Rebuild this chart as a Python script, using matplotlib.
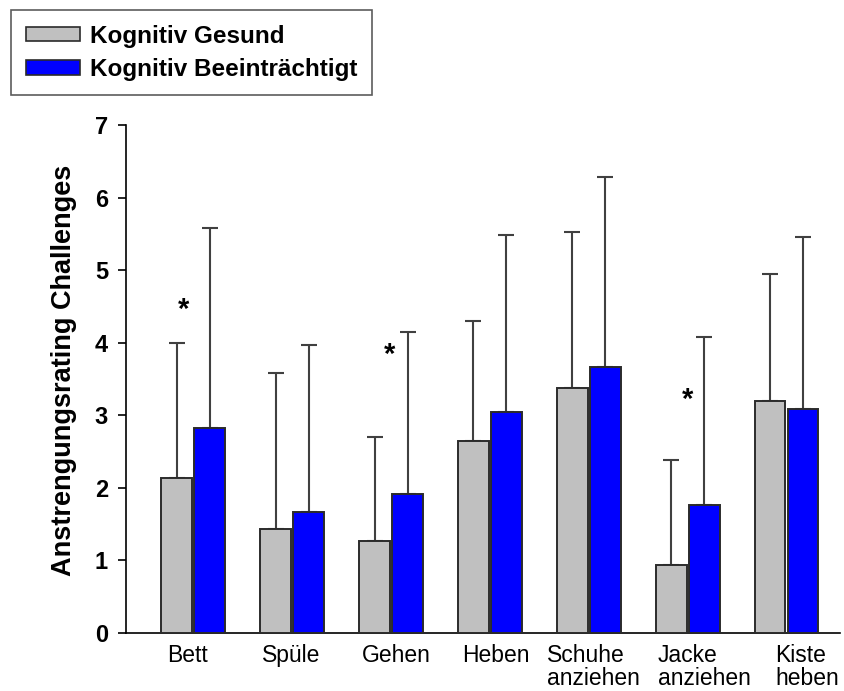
import matplotlib
matplotlib.use("Agg")
import matplotlib.pyplot as plt
import matplotlib.transforms as mtransforms
from matplotlib.patches import Patch
import numpy as np

plt.rcParams['font.family'] = ['Liberation Sans', 'DejaVu Sans']

categories = ["Bett", "Spüle", "Gehen", "Heben", "Schuhe\nanziehen", "Jacke\nanziehen", "Kiste\nheben"]
gesund_mean = [2.13, 1.43, 1.27, 2.64, 3.37, 0.94, 3.19]
gesund_err = [1.86, 2.15, 1.43, 1.66, 2.15, 1.45, 1.76]
beeintr_mean = [2.83, 1.67, 1.92, 3.05, 3.67, 1.76, 3.08]
beeintr_err = [2.75, 2.30, 2.23, 2.44, 2.61, 2.32, 2.37]
significant = [True, False, True, False, False, True, False]
series_names = ["Kognitiv Gesund", "Kognitiv Beeinträchtigt"]
y_ticks = [0, 1, 2, 3, 4, 5, 6, 7]
y_label = "Anstrengungsrating Challenges"

# small horizontal nudges (points) of the category labels
label_shift_pt = [-4, -1, 4, 4, 3, 12, 15]
star_y = [4.45, 3.83, 3.21]

W, H = 844, 691
fig = plt.figure(figsize=(W / 100, H / 100), dpi=100)
ax = fig.add_axes([126 / W, (H - 633) / H, (840 - 126) / W, (633 - 125) / H])

x = np.arange(len(categories))
bw = 0.31
off = 0.167
gray = "#C0C0C0"
blue = "#0000FF"
edge = "#2b2b2b"
errc = "#404040"

ax.bar(x - off, gesund_mean, bw, color=gray, edgecolor=edge, linewidth=1.4, zorder=3)
ax.bar(x + off, beeintr_mean, bw, color=blue, edgecolor=edge, linewidth=1.4, zorder=3)
ax.errorbar(x - off, gesund_mean, yerr=[np.zeros(len(x)), gesund_err], fmt='none',
            ecolor=errc, elinewidth=1.5, capsize=5.8, capthick=1.5, zorder=2)
ax.errorbar(x + off, beeintr_mean, yerr=[np.zeros(len(x)), beeintr_err], fmt='none',
            ecolor=errc, elinewidth=1.5, capsize=5.8, capthick=1.5, zorder=2)

star_x = [xi - 0.1 if i == 0 else xi - 0.02 if i == 2 else xi for i, xi in enumerate(x) if significant[i]]
for sx, sy in zip(star_x, star_y):
    ax.text(sx, sy, "*", ha='center', va='center', fontsize=21, fontweight='bold')

ax.set_xlim(-0.68, 6.54)
ax.set_ylim(0, 7)
ax.set_yticks(y_ticks)
ax.set_yticklabels([str(t) for t in y_ticks], fontsize=17, fontweight='bold')
ax.tick_params(axis='y', length=6, width=1.2, pad=7)
ax.set_xticks(x)
ax.set_xticklabels(categories, fontsize=16.5, linespacing=1.0)
ax.tick_params(axis='x', length=0, pad=8)
for lbl, s in zip(ax.get_xticklabels(), label_shift_pt):
    lbl.set_multialignment('left')
    lbl.set_transform(lbl.get_transform() + mtransforms.ScaledTranslation(s / 72, 0, fig.dpi_scale_trans))

ax.spines['top'].set_visible(False)
ax.spines['right'].set_visible(False)
ax.spines['left'].set_linewidth(1.2)
ax.spines['bottom'].set_linewidth(1.2)
ax.set_ylabel(y_label, fontsize=19.5, fontweight='bold')
ax.yaxis.set_label_coords(-0.069, 0.516)

handles = [Patch(facecolor=gray, edgecolor=edge, linewidth=1.2),
           Patch(facecolor=blue, edgecolor=edge, linewidth=1.2)]
leg = fig.legend(handles, series_names, loc='upper left', bbox_to_anchor=(11 / W, 1 - 10 / H),
                 borderaxespad=0, frameon=True, fancybox=False, edgecolor='#333333',
                 handlelength=2.25, handleheight=0.55, handletextpad=0.4, borderpad=0.6,
                 labelspacing=0.42, prop={'weight': 'bold', 'size': 17.5})
leg.get_frame().set_linewidth(1.2)

fig.savefig("out.png", dpi=100)
